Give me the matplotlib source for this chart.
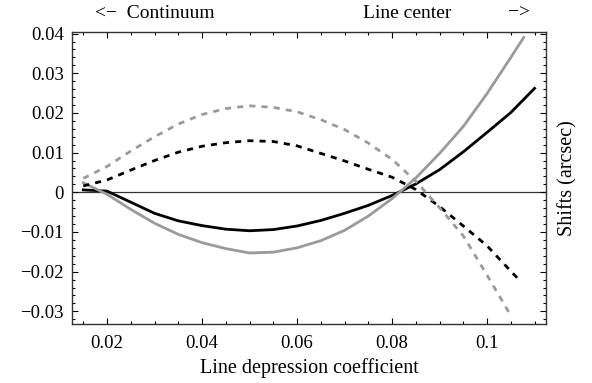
import matplotlib
matplotlib.use('Agg')
import matplotlib.pyplot as plt
from matplotlib.ticker import FixedLocator, FixedFormatter, MultipleLocator

plt.rcParams['font.family'] = ['Liberation Serif', 'DejaVu Serif']
plt.rcParams['font.size'] = 13.5

# line depression coefficient
x = [0.015, 0.02, 0.025, 0.03, 0.035, 0.04, 0.045, 0.05, 0.055, 0.06, 0.065,
     0.07, 0.075, 0.08, 0.085, 0.09, 0.095, 0.10, 0.105]

# shifts (arcsec)
solid_black_x = x + [0.11]
solid_black = [0.0006, 0.0003, -0.0025, -0.0053, -0.0072, -0.0084, -0.0093, -0.0097,
               -0.0094, -0.0085, -0.0071, -0.0053, -0.0033, -0.0008, 0.0021, 0.0057,
               0.0102, 0.0151, 0.0201, 0.0262]

solid_gray_x = x + [0.1077]
solid_gray = [0.0024, -0.0005, -0.0043, -0.0078, -0.0106, -0.0127, -0.0142, -0.0153,
              -0.0151, -0.0140, -0.0122, -0.0096, -0.0060, -0.0016, 0.0036, 0.0098,
              0.0166, 0.0249, 0.0340, 0.0390]

dashed_black_x = x + [0.1071]
dashed_black = [0.0016, 0.0031, 0.0056, 0.0080, 0.0101, 0.0116, 0.0125, 0.0130,
                0.0128, 0.0117, 0.0098, 0.0079, 0.0058, 0.0038, 0.0007, -0.0036,
                -0.0085, -0.0135, -0.0199, -0.0225]

dashed_gray_x = x
dashed_gray = [0.0035, 0.0065, 0.0104, 0.0140, 0.0172, 0.0196, 0.0211, 0.0218,
               0.0214, 0.0203, 0.0183, 0.0158, 0.0124, 0.0083, 0.0028, -0.0039,
               -0.0110, -0.0209, -0.0311]

xticks = [0.02, 0.04, 0.06, 0.08, 0.1]
xtick_labels = ['0.02', '0.04', '0.06', '0.08', '0.1']
yticks = [-0.03, -0.02, -0.01, 0, 0.01, 0.02, 0.03, 0.04]
ytick_labels = ['\u22120.03', '\u22120.02', '\u22120.01', '0', '0.01', '0.02', '0.03', '0.04']

fig = plt.figure(figsize=(5.92, 3.83), dpi=100)
ax = fig.add_axes([72 / 592, 59 / 383, 474 / 592, 292 / 383])

gray = '#9a9a9a'
ax.axhline(0, color='#333333', lw=0.9, zorder=1)
ax.plot(solid_black_x, solid_black, color='black', lw=2)
ax.plot(solid_gray_x, solid_gray, color=gray, lw=2)
ax.plot(dashed_black_x, dashed_black, color='black', lw=2, dashes=(2.2, 2.2))
ax.plot(dashed_gray_x, dashed_gray, color=gray, lw=2, dashes=(2.2, 2.2))

ax.set_xlim(0.01263, 0.1124)
ax.set_ylim(-0.0332, 0.0404)

ax.xaxis.set_major_locator(FixedLocator(xticks))
ax.xaxis.set_major_formatter(FixedFormatter(xtick_labels))
ax.yaxis.set_major_locator(FixedLocator(yticks))
ax.yaxis.set_major_formatter(FixedFormatter(ytick_labels))
ax.xaxis.set_minor_locator(MultipleLocator(0.005))
ax.yaxis.set_minor_locator(MultipleLocator(0.002))
ax.tick_params(which='both', direction='in', top=True, right=True, width=0.8)
ax.tick_params(which='major', length=4.5)
ax.tick_params(which='minor', length=2.5)
ax.tick_params(axis='y', pad=6)
ax.tick_params(axis='x', pad=8)
for s in ax.spines.values():
    s.set_linewidth(1)
    s.set_color('#333333')

ax.set_xlabel('Line depression coefficient', fontsize=14.5, labelpad=4)
ax.yaxis.set_label_position('right')
ax.set_ylabel('Shifts (arcsec)', fontsize=14.5, labelpad=9)

fig.text(155 / 592, 1 - 13 / 383, '<\u2212  Continuum', ha='center', va='center', fontsize=14)
fig.text(407 / 592, 1 - 13 / 383, 'Line center', ha='center', va='center', fontsize=14)
fig.text(519 / 592, 1 - 13 / 383, '\u2212>', ha='center', va='center', fontsize=14)

fig.savefig('out.png', dpi=100)
